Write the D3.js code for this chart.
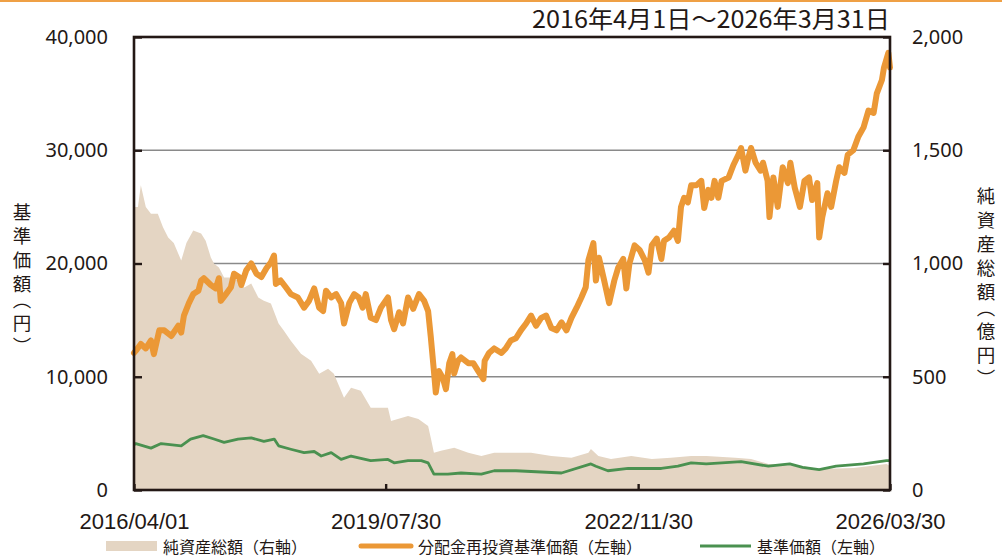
<!DOCTYPE html>
<html><head><meta charset="utf-8">
<script src="https://cdn.jsdelivr.net/npm/d3@7"></script>
<style>
html,body{margin:0;padding:0;background:#fff;}
svg{display:block;}
text{fill:#231815;}
</style></head>
<body>
<svg id="chart" width="1002" height="559"></svg>
<script>
// ---- data ----
const titleText = "2016年4月1日～2026年3月31日";
const xTickDates = ["2016-04-01","2019-07-30","2022-11-30","2026-03-30"];
const xTickLabels = ["2016/04/01","2019/07/30","2022/11/30","2026/03/30"];
const leftTicks = [0,10000,20000,30000,40000];
const rightTicks = [0,500,1000,1500,2000];
const gridValues = [10000,20000,30000];
const leftTitle = "基準価額（円）";
const rightTitle = "純資産総額（億円）";
const legendLabels = ["純資産総額（右軸）","分配金再投資基準価額（左軸）","基準価額（左軸）"];

// 分配金再投資基準価額 (left axis, 円)
const reinvested = [
["2016-04-01",12100],["2016-04-10",12300],["2016-05-04",12900],["2016-05-28",12500],["2016-06-22",13200],
["2016-07-06",12000],["2016-08-01",14100],["2016-08-25",14100],["2016-09-28",13600],["2016-11-01",14500],
["2016-11-15",13900],["2016-11-28",15400],["2016-12-22",16500],["2017-01-12",17300],["2017-02-06",17600],
["2017-02-19",18500],["2017-03-04",18700],["2017-04-07",18100],["2017-05-01",17800],["2017-05-16",18700],
["2017-05-25",16700],["2017-06-19",17300],["2017-07-13",17900],["2017-07-28",19100],["2017-08-21",18800],
["2017-09-01",18100],["2017-09-25",19400],["2017-10-19",20000],["2017-11-13",19100],["2017-12-07",18800],
["2018-01-01",19600],["2018-01-22",20100],["2018-02-06",20700],["2018-02-15",18200],["2018-03-10",18500],
["2018-04-04",17900],["2018-04-28",17300],["2018-06-01",17000],["2018-07-01",16100],["2018-07-25",16700],
["2018-08-19",17800],["2018-09-12",16100],["2018-10-01",15800],["2018-10-15",17600],["2018-11-09",17000],
["2018-12-03",17300],["2018-12-27",16500],["2019-01-10",14700],["2019-02-04",16500],["2019-02-28",17300],
["2019-03-22",17000],["2019-04-10",16100],["2019-04-25",17300],["2019-05-19",15200],["2019-06-13",15000],
["2019-07-07",16100],["2019-08-10",17000],["2019-08-25",15000],["2019-09-09",14200],["2019-10-03",15700],
["2019-10-22",14700],["2019-11-15",17000],["2019-12-10",16000],["2020-01-07",17300],["2020-02-01",16700],
["2020-02-20",15800],["2020-03-04",13500],["2020-03-19",10500],["2020-03-28",8600],["2020-04-12",10500],
["2020-05-01",9900],["2020-05-16",8900],["2020-06-01",11200],["2020-06-16",12000],["2020-06-25",10300],
["2020-07-13",11400],["2020-07-28",11700],["2020-09-01",11200],["2020-09-25",11200],["2020-10-19",10500],
["2020-11-13",9800],["2020-11-19",11400],["2020-12-10",12100],["2021-01-04",12500],["2021-02-08",12100],
["2021-03-01",12500],["2021-03-25",13200],["2021-04-19",13400],["2021-05-13",14100],["2021-06-07",14700],
["2021-07-01",15400],["2021-07-25",14500],["2021-08-19",15200],["2021-09-12",15400],["2021-10-07",14300],
["2021-11-01",14100],["2021-11-25",14800],["2021-12-19",14100],["2022-01-12",15200],["2022-02-06",16100],
["2022-03-01",17000],["2022-03-22",17900],["2022-04-04",20300],["2022-04-28",21800],["2022-05-10",18500],
["2022-05-25",20500],["2022-06-19",18500],["2022-07-13",16500],["2022-08-07",18500],["2022-08-25",19600],
["2022-09-19",20400],["2022-10-04",17800],["2022-10-19",20000],["2022-11-13",21600],["2022-12-07",21200],
["2023-01-01",20300],["2023-01-19",19200],["2023-02-04",21600],["2023-02-28",22200],["2023-03-22",20400],
["2023-04-04",22000],["2023-04-28",22300],["2023-05-22",22900],["2023-06-10",22000],["2023-06-25",25000],
["2023-07-10",25800],["2023-07-28",25400],["2023-08-13",26900],["2023-09-07",26900],["2023-10-01",27300],
["2023-10-15",24900],["2023-11-04",26500],["2023-11-19",25800],["2023-12-04",27300],["2023-12-22",25800],
["2024-01-07",27300],["2024-02-10",27600],["2024-03-04",28700],["2024-03-28",29600],["2024-04-10",30200],
["2024-05-01",28200],["2024-05-16",29400],["2024-05-28",30200],["2024-06-19",28900],["2024-07-13",28200],
["2024-07-25",28900],["2024-08-16",27300],["2024-08-25",24100],["2024-09-13",27600],["2024-10-04",25000],
["2024-10-28",28500],["2024-11-22",27100],["2024-12-04",28900],["2024-12-25",26700],["2025-01-19",25000],
["2025-02-10",27300],["2025-03-04",27600],["2025-03-19",25600],["2025-04-13",27100],["2025-04-22",22300],
["2025-05-07",24100],["2025-06-01",26200],["2025-06-19",25000],["2025-07-13",27300],["2025-07-28",28500],
["2025-08-22",28000],["2025-09-07",29600],["2025-10-04",30000],["2025-10-28",31200],["2025-11-22",32000],
["2025-12-16",33500],["2026-01-10",33300],["2026-01-25",35000],["2026-02-19",36200],["2026-03-01",37300],
["2026-03-22",38600],["2026-03-30",37300]
];

// 基準価額 (left axis, 円)
const navPrice = [
["2016-04-01",4000],["2016-04-10",4100],["2016-06-22",3700],["2016-08-10",4100],["2016-11-15",3900],
["2016-12-30",4500],["2017-03-01",4800],["2017-04-22",4500],["2017-06-10",4200],["2017-08-16",4500],
["2017-10-19",4600],["2017-12-19",4300],["2018-02-07",4500],["2018-02-28",3900],["2018-04-28",3600],
["2018-07-01",3300],["2018-08-19",3400],["2018-09-22",3000],["2018-11-09",3300],["2018-12-27",2700],
["2019-02-13",3000],["2019-04-01",2800],["2019-05-19",2600],["2019-08-10",2700],["2019-09-09",2400],
["2019-11-15",2600],["2020-01-18",2600],["2020-02-20",2400],["2020-03-19",1400],["2020-05-25",1400],
["2020-07-28",1500],["2020-11-03",1400],["2021-01-04",1700],["2021-04-19",1700],["2021-11-25",1500],
["2022-04-16",2300],["2022-05-10",2100],["2022-07-07",1700],["2022-10-13",1900],["2023-01-01",1900],
["2023-03-22",1900],["2023-06-10",2100],["2023-08-13",2400],["2023-10-25",2300],["2024-04-10",2500],
["2024-08-20",2100],["2024-12-01",2300],["2025-02-01",2000],["2025-04-22",1800],["2025-07-13",2100],
["2025-11-22",2300],["2026-03-13",2600],["2026-03-30",2600]
];

// 純資産総額 (right axis, 億円)
const netAssets = [
["2016-04-01",1250],["2016-04-20",1250],["2016-05-04",1345],["2016-05-28",1250],["2016-06-22",1220],
["2016-07-25",1220],["2016-08-19",1160],["2016-09-13",1115],["2016-10-10",1090],["2016-11-15",1013],
["2016-12-10",1090],["2017-01-12",1146],["2017-02-19",1133],["2017-03-13",1100],["2017-04-07",1027],
["2017-04-22",1000],["2017-05-16",982],["2017-06-10",938],["2017-07-13",938],["2017-08-16",925],
["2017-09-16",894],["2017-10-19",912],["2017-11-22",850],["2017-12-19",836],["2018-01-22",823],
["2018-02-28",735],["2018-03-25",704],["2018-04-28",659],["2018-06-16",602],["2018-08-04",571],
["2018-09-12",513],["2018-10-25",535],["2018-11-22",513],["2019-01-10",407],["2019-02-13",451],
["2019-04-01",438],["2019-05-19",363],["2019-08-10",363],["2019-08-25",305],["2019-11-15",327],
["2020-01-04",314],["2020-02-20",283],["2020-03-04",230],["2020-03-19",164],["2020-04-22",173],
["2020-06-25",186],["2020-09-01",164],["2020-11-03",150],["2021-01-04",164],["2021-07-01",164],
["2021-10-07",150],["2022-01-12",142],["2022-04-04",164],["2022-04-16",181],["2022-05-22",150],
["2022-07-22",137],["2022-10-28",150],["2023-02-04",137],["2023-05-07",142],["2023-08-13",150],
["2023-10-25",150],["2024-03-13",142],["2024-05-28",137],["2024-08-20",115],["2025-02-01",106],
["2025-04-22",93],["2025-10-04",97],["2026-03-13",115],["2026-03-30",106]
];

// ---- drawing ----
const parse = d3.timeParse("%Y-%m-%d");
const svg = d3.select("#chart");
const L = 134, R = 890, T = 37, B = 490;
const ink = "#231815";
const cOrange = "#EB9836", cGreen = "#4A9150", cBeige = "#E4D5C3";

const x = d3.scaleTime().domain([parse(xTickDates[0]), parse(xTickDates[3])]).range([L, R]);
const yL = d3.scaleLinear().domain([0, 40000]).range([B, T]);
const yR = d3.scaleLinear().domain([0, 2000]).range([B, T]);

// top rule
svg.append("rect").attr("x",0).attr("y",0).attr("width",1002).attr("height",2).attr("fill","#EFA045");

// gridlines
svg.append("g").selectAll("line").data(gridValues).join("line")
  .attr("x1",L).attr("x2",R).attr("y1",d=>yL(d)).attr("y2",d=>yL(d))
  .attr("stroke","#8a8a8a").attr("stroke-width",1.3);

// area
const area = d3.area().x(d=>x(parse(d[0]))).y0(B).y1(d=>yR(d[1]));
svg.append("path").datum(netAssets).attr("d",area).attr("fill",cBeige);

// lines
const lineL = d3.line().x(d=>x(parse(d[0]))).y(d=>yL(d[1]));
svg.append("path").datum(navPrice).attr("d",lineL).attr("fill","none")
  .attr("stroke",cGreen).attr("stroke-width",2.8).attr("stroke-linejoin","round");
svg.append("path").datum(reinvested).attr("d",lineL).attr("fill","none")
  .attr("stroke",cOrange).attr("stroke-width",6).attr("stroke-linejoin","round").attr("stroke-linecap","round");

// frame
svg.append("rect").attr("x",L).attr("y",T).attr("width",R-L).attr("height",B-T)
  .attr("fill","none").attr("stroke",ink).attr("stroke-width",2.6);

// axes
const fmt = d3.format(",");
const gl = svg.append("g").attr("transform",`translate(${L},0)`)
  .call(d3.axisLeft(yL).tickValues(leftTicks).tickSize(-8).tickPadding(26).tickFormat(fmt));
const gr = svg.append("g").attr("transform",`translate(${R},0)`)
  .call(d3.axisRight(yR).tickValues(rightTicks).tickSize(-7).tickPadding(22).tickFormat(fmt));
const gb = svg.append("g").attr("transform",`translate(0,${B})`)
  .call(d3.axisBottom(x).tickValues(xTickDates.map(parse)).tickSize(-6).tickPadding(23)
    .tickFormat((d,i)=>xTickLabels[i]));
[gl,gr,gb].forEach(g=>{
  g.select(".domain").remove();
  g.selectAll(".tick line").attr("stroke",ink).attr("stroke-width",2.4);
  g.selectAll(".tick text").attr("fill",ink);
});
gl.selectAll(".tick text").style("font-family","'Noto Sans',sans-serif").style("font-size","20px");
gr.selectAll(".tick text").style("font-family","'Noto Sans',sans-serif").style("font-size","20px");
gb.selectAll(".tick text").style("font-family","'Liberation Sans',Arial,sans-serif").style("font-size","22px");

// title
svg.append("text").attr("x",532).attr("y",28)
  .attr("textLength",358).attr("lengthAdjust","spacingAndGlyphs")
  .style("font-family","'Noto Sans CJK JP','Noto Sans',sans-serif").style("font-size","24px")
  .text(titleText);

// vertical axis titles
function vtitle(txt, cx, top){
  svg.append("text").attr("x",cx).attr("y",top)
    .style("writing-mode","vertical-rl")
    .style("font-family","'Noto Sans CJK JP',sans-serif")
    .style("font-size","18.5px")
    .style("letter-spacing","5.5px")
    .style("font-feature-settings","'vpal'")
    .text(txt);
}
vtitle(leftTitle, 22, 203);
vtitle(rightTitle, 986, 187);

// legend
const ly = 546;
const lg = svg.append("g").style("font-family","'Noto Sans CJK JP',sans-serif").style("font-size","16px");
lg.append("rect").attr("x",106).attr("y",ly-5).attr("width",51).attr("height",10).attr("fill",cBeige);
lg.append("text").attr("x",163).attr("y",ly).attr("dominant-baseline","central").text(legendLabels[0]);
lg.append("line").attr("x1",361).attr("x2",411).attr("y1",ly).attr("y2",ly)
  .attr("stroke",cOrange).attr("stroke-width",5).attr("stroke-linecap","round");
lg.append("text").attr("x",418).attr("y",ly).attr("dominant-baseline","central").text(legendLabels[1]);
lg.append("line").attr("x1",700).attr("x2",751).attr("y1",ly).attr("y2",ly)
  .attr("stroke",cGreen).attr("stroke-width",3);
lg.append("text").attr("x",757).attr("y",ly).attr("dominant-baseline","central").text(legendLabels[2]);
</script>
</body></html>
